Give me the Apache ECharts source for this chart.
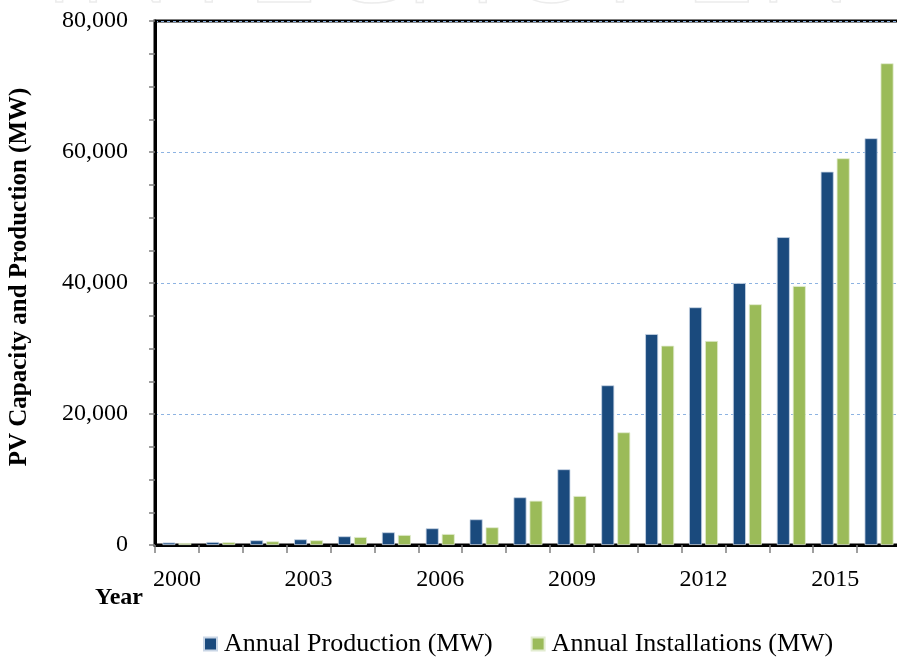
<!DOCTYPE html>
<html>
<head>
<meta charset="utf-8">
<script src="https://cdn.jsdelivr.net/npm/echarts@6/dist/echarts.min.js"></script>
<style>
html,body{margin:0;padding:0;background:#fff;}
#chart{width:897px;height:657px;}
</style>
</head>
<body>
<div id="chart"></div>
<script>
const years = ['2000','2001','2002','2003','2004','2005','2006','2007','2008','2009','2010','2011','2012','2013','2014','2015','2016'];
const production = [380, 460, 720, 870, 1330, 1940, 2550, 3920, 7280, 11560, 24380, 32210, 36290, 40000, 47000, 57000, 62100];
const installations = [300, 420, 560, 720, 1220, 1530, 1680, 2700, 6760, 7480, 17200, 30430, 31150, 36750, 39540, 59040, 73540];
const seriesNames = ['Annual Production (MW)', 'Annual Installations (MW)'];
const yTicks = [0, 20000, 40000, 60000, 80000];

const FONT = '"Liberation Serif", "Times New Roman", serif';
const chart = echarts.init(document.getElementById('chart'), null, {renderer: 'canvas'});
chart.setOption({
  animation: false,
  backgroundColor: '#ffffff',
  textStyle: {fontFamily: FONT},
  graphic: [
    {
      type: 'text', z: -10, silent: true,
      style: {
        text: 'INTECHOPEN', x: 448, y: -36,
        align: 'center', verticalAlign: 'middle',
        font: '300 135px "Open Sans", sans-serif',
        fill: 'rgba(0,0,0,0)', stroke: '#ececec', lineWidth: 1.5
      }
    },
    {
      type: 'rect', z: -9, silent: true,
      shape: {x: 0, y: 12, width: 897, height: 645},
      style: {fill: '#ffffff'}
    },
    {
      type: 'text', left: 95, top: 586,
      style: {text: 'Year', font: 'bold 24px ' + FONT, fill: '#000'}
    }
  ],
  grid: {
    left: 155, right: -4, top: 21, bottom: 112,
    containLabel: false, outerBoundsMode: 'none',
    show: true, borderColor: '#000', borderWidth: 3, backgroundColor: 'transparent'
  },
  legend: {
    top: 626, left: 198,
    itemWidth: 13, itemHeight: 13, itemGap: 38,
    icon: 'rect',
    textStyle: {fontFamily: FONT, fontSize: 26, color: '#000', padding: [0,0,0,2]},
    data: seriesNames
  },
  xAxis: {
    type: 'category',
    data: years,
    boundaryGap: true,
    axisLine: {lineStyle: {color: '#000', width: 3}},
    axisTick: {show: true, interval: 0, length: 8, lineStyle: {color: '#808080', width: 1.5}},
    axisLabel: {interval: 2, margin: 23, fontSize: 24, color: '#000', fontFamily: FONT},
    splitLine: {show: false}
  },
  yAxis: {
    type: 'value',
    min: yTicks[0], max: yTicks[yTicks.length - 1], interval: 20000,
    name: 'PV Capacity and Production (MW)',
    nameLocation: 'middle',
    nameGap: 123,
    nameRotate: 90,
    nameTextStyle: {fontFamily: FONT, fontSize: 25, fontWeight: 'bold', color: '#000', padding: [0, 0, 0, 12]},
    axisLine: {show: true, lineStyle: {color: '#000', width: 3}},
    axisTick: {show: true, length: 6, lineStyle: {color: '#808080', width: 1.5}},
    minorTick: {show: true, splitNumber: 4, length: 6, lineStyle: {color: '#808080', width: 1.5}},
    axisLabel: {
      margin: 27, fontSize: 24, color: '#000', fontFamily: FONT,
      formatter: v => v.toLocaleString('en-US')
    },
    splitLine: {
      show: true,
      lineStyle: {color: '#8db3e2', type: [3, 3], width: 1}
    }
  },
  series: [
    {
      name: seriesNames[0], type: 'bar', data: production,
      barWidth: 13, barGap: '23%',
      itemStyle: {color: '#1a4a7d', borderColor: '#c9d6e6', borderWidth: 0.8}
    },
    {
      name: seriesNames[1], type: 'bar', data: installations,
      barWidth: 13, barGap: '23%',
      itemStyle: {color: '#9bbb59', borderColor: '#e2ecd0', borderWidth: 0.8}
    }
  ]
});
</script>
</body>
</html>
